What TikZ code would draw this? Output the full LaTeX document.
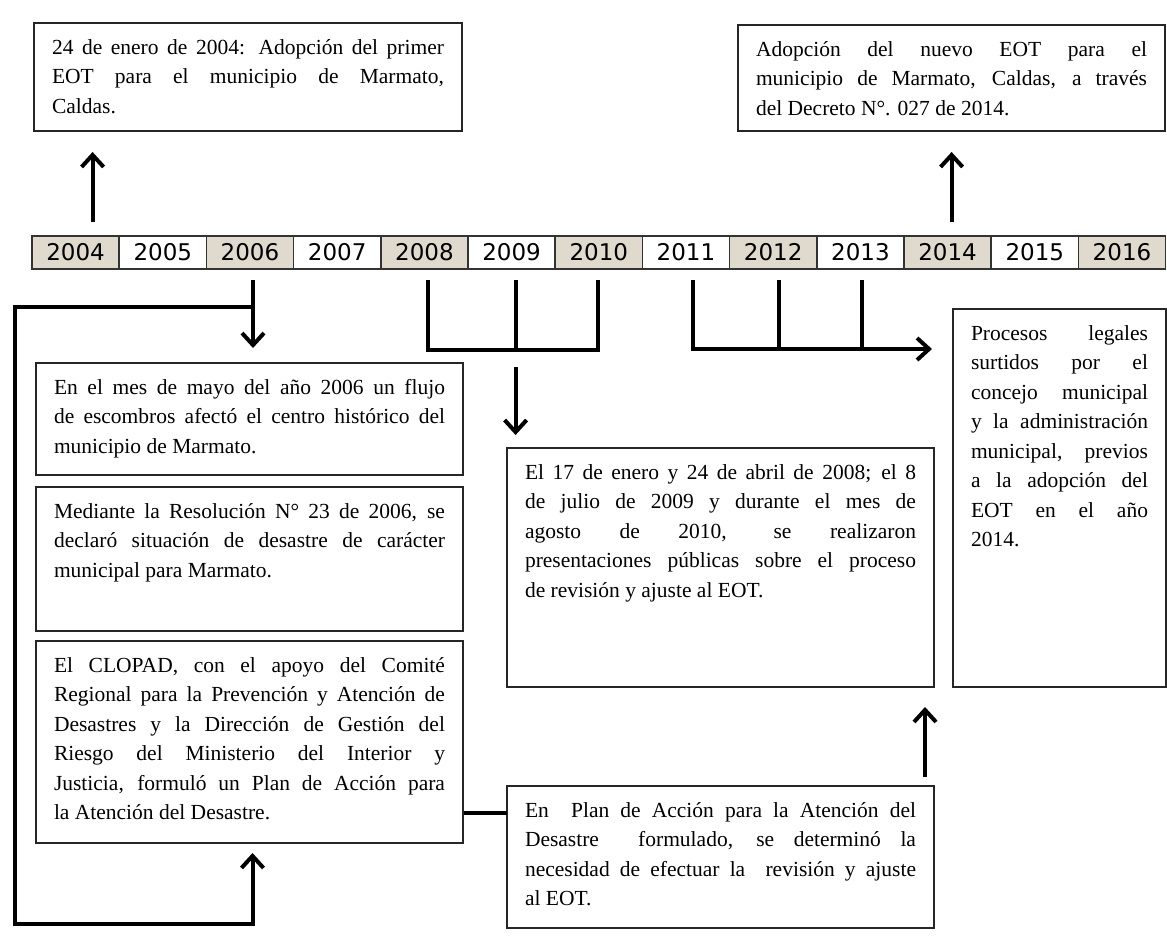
\documentclass[tikz,border=0pt]{standalone}
\usepackage{fontspec}
\setmainfont{Liberation Serif}
\newfontfamily\aniofont{DejaVu Sans}
\usetikzlibrary{arrows.meta}
\definecolor{beige}{RGB}{224,217,205}
\hyphenpenalty=10000
\exhyphenpenalty=10000
\hbadness=10000

\begin{document}
\begin{tikzpicture}[x=1pt, y=-1pt,
anio/.style={rectangle, draw=black!80, line width=1.5pt, anchor=north west, minimum width=87.2pt, minimum height=33pt, outer sep=0pt, inner sep=0pt, font=\aniofont\fontsize{23}{23}\selectfont},
caja/.style={rectangle, draw=black!85, line width=1.4pt, anchor=north west, inner xsep=18pt, inner ysep=10.5pt, outer sep=0pt, font=\fontsize{21.5}{29.5}\selectfont},
linea/.style={line width=4pt, black},
flecha/.style={linea, -{Straight Barb[length=12pt, width=22pt]}},
]
\useasboundingbox (0,0) rectangle (1167,937);

% linea de tiempo
\foreach \i in {0,...,12}{
  \pgfmathtruncatemacro{\anio}{2004+\i}
  \ifodd\i\relax \def\relleno{white}\else \def\relleno{beige}\fi
  \node[anio, fill=\relleno](a\anio) at ({32+87.2*\i}, 236) {\anio};
}

% \node[caja](nombre) at (x,y) {\parbox[c][alto][t]{ancho}{texto}}
\node[caja](eot2004) at (34,23) {\parbox[c][87pt][t]{392pt}{\strut 24 de enero de 2004: Adopción del primer\linebreak EOT para el municipio de Marmato,\linebreak Caldas.}};
\node[caja](eot2014) at (738,25) {\parbox[c][85pt][t]{391pt}{\strut Adopción del nuevo EOT para el\linebreak municipio de Marmato, Caldas, a través\linebreak del Decreto N°. 027 de 2014.}};
\node[caja](flujo) at (36,363) {\parbox[c][91pt][t]{391pt}{\strut En el mes de mayo del año 2006 un flujo\linebreak de escombros afectó el centro histórico del\linebreak municipio de Marmato.}};
\node[caja](resolucion) at (36,487) {\parbox[c][123pt][t]{391pt}{\strut Mediante la Resolución N° 23 de 2006, se\linebreak declaró situación de desastre de carácter\linebreak municipal para Marmato.}};
\node[caja](clopad) at (36,641) {\parbox[c][181pt][t]{391pt}{\strut El CLOPAD, con el apoyo del Comité\linebreak Regional para la Prevención y Atención de\linebreak Desastres y la Dirección de Gestión del\linebreak Riesgo del Ministerio del Interior y\linebreak Justicia, formuló un Plan de Acción para\linebreak la Atención del Desastre.}};
\node[caja](revision) at (507,448) {\parbox[c][218pt][t]{391pt}{\strut El 17 de enero y 24 de abril de 2008; el 8\linebreak de julio de 2009 y durante el mes de\linebreak agosto de 2010, se realizaron\linebreak presentaciones públicas sobre el proceso\linebreak de revisión y ajuste al EOT.}};
\node[caja](procesos) at (953,309) {\parbox[c][357pt][t]{177pt}{\strut Procesos legales\linebreak surtidos por el\linebreak concejo municipal\linebreak y la administración\linebreak municipal, previos\linebreak a la adopción del\linebreak EOT en el año\linebreak 2014.}};
\node[caja](plan) at (507,786) {\parbox[c][121pt][t]{391pt}{\strut En\ \ Plan de Acción para la Atención del\linebreak Desastre\ \ formulado, se determinó la\linebreak necesidad de efectuar la\ \ revisión y ajuste\linebreak al EOT.}};

% flechas hacia arriba
\draw[flecha, shorten >=21pt] ([xshift=17pt, yshift=14pt]a2004.north) -- ([xshift=17pt]a2004.north |- eot2004.south);
\draw[flecha, shorten >=21pt] ([xshift=4pt, yshift=14pt]a2014.north) -- ([xshift=4pt]a2014.north |- eot2014.south);

% 2006
\draw[flecha, shorten >=15pt] ([xshift=3pt, yshift=-11pt]a2006.south) -- ([xshift=3pt]a2006.south |- flujo.north);
\draw[flecha, shorten >=10pt] ([xshift=3pt, yshift=-38pt]a2006.south) -- ++(-238,0) -- ++(0,617) -| ([xshift=3pt]clopad.south);

% 2008 - 2010
\draw[linea] ([xshift=4pt, yshift=-11pt]a2008.south) -- ++(0,70) -- ++(170,0) -- ++(0,-70);
\draw[linea] ([xshift=4pt, yshift=-11pt]a2009.south) -- ++(0,70);
\draw[flecha, shorten >=13pt] ([xshift=4pt, yshift=-98pt]a2009.south) -- ([xshift=4pt]a2009.south |- revision.north);

% 2011 - 2013
\draw[flecha] ([xshift=7pt, yshift=-11pt]a2011.south) -- ++(0,69) -- ++(239,0);
\draw[linea] ([xshift=6pt, yshift=-11pt]a2012.south) -- ++(0,69);
\draw[linea] ([xshift=2pt, yshift=-11pt]a2013.south) -- ++(0,69);

% plan de accion
\draw[linea] ([yshift=-27pt]plan.north west) -- ++(-43,0);
\draw[flecha, shorten >=20pt] ([xshift=-9pt, yshift=9pt]plan.north east) -- ([xshift=-9pt]revision.south east);

\end{tikzpicture}
\end{document}
